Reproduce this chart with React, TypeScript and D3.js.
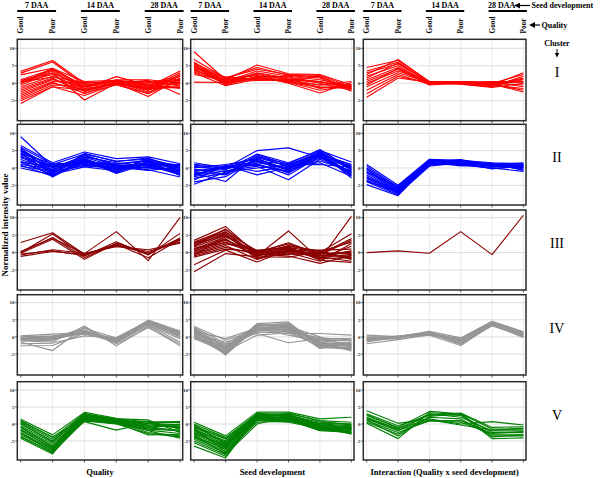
import React from "react";
import * as d3 from "d3";

// ---------- data ----------
const categories = ["G7", "P7", "G14", "P14", "G28", "P28"];
const qualityLabels = ["Good", "Poor", "Good", "Poor", "Good", "Poor"];
const stages = ["7 DAA", "14 DAA", "28 DAA"];
const yTicks = [10, 5, 0, -5];
const clusters = ["I", "II", "III", "IV", "V"];
const columnTitles = ["Quality", "Seed development", "Interaction (Quality x seed development)"];
const clusterColors = ["#ff0000", "#0000ff", "#8b0000", "#959595", "#008000"];

const qualityI = [
  [3.4, 6.5, 0, 0.5, -1, 3.5], [2.9, 6.1, -0.5, 0.3, -1.5, 3], [2.4, 4.3, -1, 0, -2, 2.5],
  [1, 4, -1.5, 1.9, -0.5, 1], [0.5, 3.8, -0.5, 0.5, 0, 2], [0, 3.5, -2, 0, -1, 0],
  [-0.5, 3, -4.8, 0, -3.8, 1.5], [0.8, 2.9, -1, 0.5, 0.5, -0.5], [0.2, 2.5, -2.4, 0.2, -2.5, 0.5],
  [-1, 2, -1.5, -0.3, -1.2, -1], [-1.5, 1.5, -3, 0.3, -2, 2], [-2, 1.2, -2.2, 0, 0.8, -3.2],
  [-2.5, 1, -1, 1, 1, 0], [-3, 0.5, 0, 0.5, -0.5, -1.5], [-3.5, 0.2, -2.8, -0.5, -3, 1],
  [-4, 0, -1.8, 0.2, -1.8, -0.5], [-4.5, -0.5, -0.8, 0.8, -0.8, 0.3], [-5, -1, -3.5, -0.2, -2.8, 2.5],
  [-5.8, -1, -2, 0, -1.5, -1.2], [0, 4.2, 0.5, 0.8, 0.2, 1.2], [0.3, 1.8, 0.2, 0.4, -0.3, 0.8],
];
const seedI = [
  [9, 1, 5.2, 2.7, 2.5, -0.5], [6.8, 1.5, 4, 2.5, 2.2, -1], [6, 0.5, 3.5, 2, 1, -0.8],
  [5.5, 0, 3, 1.5, 0.5, -1.5], [5.2, 1.2, 2.5, 1, -0.5, -0.5], [5, -0.5, 2, 1.8, 0, -2],
  [4.8, 0.8, 1.5, 0.5, -1, -1.2], [4.5, 0.2, 2.8, 1.2, -1.5, -0.3], [4.2, 1.8, 1, 0.8, 2, -1.8],
  [4, -0.2, 1.8, 0.3, -2, -0.6], [3.8, 0.6, 1.2, 2.2, 1.5, -2.3], [3.5, 1, 2.2, 0, -2.8, 0.2],
  [3.2, 0.3, 0.8, 1, 0.5, -1], [3, -0.7, 1.2, 0.6, -0.5, 0.5], [2.5, 0.9, 1.6, 0.2, -1.2, -1.4],
  [0.3, 0.2, 1.4, 1.1, 0.2, -0.8], [5.8, 1.5, 4.5, 2.3, 1.8, -1.6],
];
const interI = [
  [4.5, 6.5, 0.5, 0.3, -0.5, 3], [3.5, 6, 0, 0.5, 0, 2.5], [3, 5.5, 0.3, 0, -0.5, 1.5],
  [2, 5, -0.2, 0.2, 0.5, 0.5], [1.5, 5.8, 0.2, -0.2, -1, 2], [1, 4.5, 0, 0.3, 0.3, -1],
  [0.5, 4, -0.5, 0, -0.8, 1], [0, 3.5, 0.5, 0.5, 0, -0.5], [-0.5, 4.2, 0, -0.3, -1.2, 0],
  [-1, 3, 0.2, 0.1, -0.3, -2], [-2, 2.5, -0.3, 0.4, 0.2, 0.3], [-3, 2, 0, 0, -0.6, -1.5],
  [-4, 1.5, 0.3, 0.2, -0.2, -2.5], [2.5, 6.8, 0.4, 0.1, -0.4, 1.2],
];

const qualityII = [
  [9, 0.5, 2, 0.5, 1, -1], [6.5, 1.5, 4.6, 2.7, 3.2, 1.2], [6, 1, 4, 2, 2.5, 0.5],
  [5.5, 0, 3.5, 1, 2, -0.5], [5.2, -1, 3, 0.5, 1.5, 0], [5, 0.5, 2.5, 0, 1, 1],
  [4.8, -0.5, 3.2, 1.5, 0.5, -1.5], [4.5, -2, 2, -0.5, 1.8, 0.8], [4.2, 1.2, 1.5, 0.8, 0, -1],
  [4, -1.5, 2.8, -1, 2.8, -0.2], [3.8, 0.2, 1, 0.3, 0.8, -2], [3.5, -2.6, 2.2, -1.6, 1.2, 0.3],
  [3.2, -0.8, 3.8, 0.6, -0.5, -2.6], [3, 0.8, 1.8, 1.2, 2.2, -0.8], [2.5, -1.2, 0.8, -0.2, 0.3, 1],
  [2, -2.2, 2.5, -1.2, 1.5, -1.8], [1.7, 0.3, 1.2, 0.2, -0.7, 0.2], [1.5, -1.8, 0.3, -0.8, 2.5, -1.3],
  [1, -0.3, 1.6, 0.9, 0.6, 0.6], [0.8, -2.4, 2.6, -1.4, 1.9, -2.2], [0.5, -1, 0.6, 0, 0.1, -0.4],
  [0, -2, 1.4, -0.6, 1.1, -1.6], [5.8, -1.7, 4.2, 1.8, 2.9, -0.9],
];
const seedII = [
  [1.5, 0, 2, 1, 4, 1], [1, 0.5, 3, 0.5, 4.5, 0], [0.5, -0.5, 4, 1.5, 5, 1.7],
  [0, 1, 2.5, -0.5, 4.8, -0.5], [-0.5, -1, 1.5, 0, 3.5, 0.5], [-1, 0, 5, 5.8, 3, -1],
  [-1.5, -3.9, 3.5, 0.3, 4.2, -1.5], [-2, 0.3, 1, -1, 3.8, -2], [-2.5, -0.8, 0.5, -3.4, 2.5, -1.2],
  [-3, -1.5, 2.2, -1.5, 4.5, -2.9], [-4.7, -1.2, 0, 0.8, 1, 0.2], [-3.5, 0.8, -2, 0.2, 2, -0.8],
  [0.2, -0.3, 3.2, 1.2, 5.3, -0.3], [-0.8, 0.2, 1.8, -0.2, 4, 0.8], [-1.2, -2, 2.8, -0.8, 3.2, -1.8],
  [-1.8, 0.6, -1, 0.5, 1.5, -2.4], [0.8, -0.1, 0.8, -1.2, 2.8, 0.4], [-0.3, -1.8, 3.8, 0.9, 4.6, -0.6],
  [-2.2, 0.4, 1.2, -2, 3.4, -1.3], [-4, -2.5, 2.5, -0.4, 3.6, -2.2],
];
const interII = [
  [1, -5, 2.5, 2.2, 1.5, 1.2], [0.5, -5.5, 2.2, 2, 1.2, 0.8], [0, -5.8, 2, 1.8, 1, 1.5],
  [-0.5, -6, 1.8, 2.4, 0.8, 0.5], [-1, -6.2, 1.5, 1.5, 0.5, 0], [-1.5, -6.5, 1.2, 1.2, 1.3, -0.5],
  [-2, -6.8, 1, 1, 0.2, 1], [-2.5, -7, 2.3, 0.8, 0, -1], [-3, -7.2, 0.8, 2, 0.7, 0.3],
  [-3.5, -7.5, 0.5, 1.6, -0.3, 0.8], [-4, -7.8, 1.6, 0.6, 0.9, -0.3], [-4.8, -8, 1.4, 1.3, 0.4, 0.6],
  [-1.2, -5.2, 2.1, 1.7, 1.1, 1.1], [-2.8, -6.4, 1.7, 2.3, 0.6, 0.1], [-0.2, -7.4, 1.9, 1.4, 1.4, -0.7],
  [-3.8, -6.9, 0.9, 1.1, -0.1, 0.4],
];

const qualityIII = [
  [2.9, 5.7, -0.5, 2.2, -0.2, 4], [0, 5.3, -1, 3.1, -0.7, 5.5], [0.3, 4.1, -0.3, 6, -2.3, 10.1],
  [-0.2, 3.8, -1.9, 2.7, -0.2, 3.5], [-0.7, 0.8, -0.2, 1.7, 0.8, 2.7], [-1.1, 0.3, -0.6, 2, 0.3, 3],
  [0.1, 4.3, -1.4, 2.4, -1.5, 3.8], [-0.4, 0.5, -0.8, 2.5, -0.5, 4.2],
];
const seedIII = [
  [3.5, 7.5, -0.5, 1, -1, 0.5], [3, 6.5, 0, 2.8, -0.5, 4], [2.5, 6, -1, 6.2, -2, 10.4],
  [2.8, 5.8, 0.5, 1.5, 0, 5.4], [2, 5.5, -0.8, 0.5, -1.5, -0.5], [1.5, 5, -0.2, 2, 0.3, 3],
  [1, 4.5, 0.3, 1, -0.8, -1], [0.8, 4, -1.5, 0, -2.5, 2.6], [0.5, 3.5, 0, 1.8, 0.5, -1.8],
  [0, 3, -0.6, -0.5, -0.2, 0], [-0.3, 2.5, 0.7, 1.2, -1.2, -2.5], [-0.6, 2, -2, 0.5, 0.7, 1],
  [-1, 1.5, -0.4, -1, -3.1, -0.8], [-1.3, 1, 0.2, 2.5, -0.6, 3.5], [-3.5, 0.7, -2.7, 0.8, -1.8, -1.4],
  [-5.5, -0.3, -1.2, -1.3, 0.2, -2], [1.8, 6.8, -0.1, 0.6, -0.3, -0.3], [0.3, 3.8, -1.1, 1.4, -1.6, 1.8],
  [1.2, 2.8, 0.4, -0.2, -0.9, 0.3], [-0.8, 4.8, -0.7, 0.2, 0.1, -1.6], [2.2, 5.2, -1.8, 1.6, -2.2, -2.8],
];
const interIII = [[0, 0.5, -0.2, 6, -0.6, 10.7]];

const qualityIV = [
  [0.3, 0.8, 1.2, -0.5, 4.5, 1.5], [0, 0.3, 1.5, -1, 4.8, 1], [-0.3, 0, 2, -0.8, 4.2, 0.5],
  [-0.5, -0.5, 1, -1.2, 4, 0.8], [-0.8, -0.2, 2.5, -0.3, 3.8, 0], [-1, -1, 1.8, -1.5, 3.5, -0.5],
  [-1.2, -1.5, 3.2, -2.6, 3, -2.6], [-1.5, -4, 2.8, -2, 2.7, -2], [-0.2, 0.2, 0.8, -0.6, 4.9, 1.7],
  [-0.6, -0.3, 1.4, -0.9, 4.4, 1.2], [-2.6, -2.5, 1.1, -1.6, 3.3, -1.5], [-2, -1.8, 0.3, -0.2, 4.6, 0.2],
  [-0.9, -0.7, 1.7, -1.3, 3.9, 0.9],
];
const seedIV = [
  [3.1, -1, 2, 1.5, -2, -2], [2.8, -2, 3, 2.5, -1, -1], [2.5, -3, 3.5, 3, 0, -3],
  [2.2, -4, 2.5, 3.5, -2.5, -2.5], [2, -4.5, 3.9, 4.4, -3, -3.5], [1.8, -5.3, 2.8, 2, -1.5, -4.1],
  [1.5, -3.5, 1.5, 1, 1, 0.5], [1.2, -2.5, 2.2, 2.8, -3.4, -1.5], [1, -4.8, 3.2, 3.8, -2.2, -2.8],
  [0.8, -1.5, 1, -1.7, -0.5, -0.5], [0.5, -3.8, 2.4, 1.8, -2.8, -3.2], [0.2, -5, 3.6, 3.2, -1.8, -2.2],
  [0, -2.8, 1.8, 2.2, -0.8, -1.2], [-0.5, -4.2, 0.5, 1.2, -2.6, -3.8], [1.6, -0.5, 2.6, 0.5, -1.2, -1.8],
  [2.6, -3.2, 3.3, 4, -2, -2.6], [0.4, -4.5, 2.9, 2.6, -3.2, -3], [1.4, -2.2, 1.3, 1.6, -0.3, -0.9],
  [2.4, -4.8, 3.5, 3.4, -2.4, -3.4], [-0.2, -3.3, 2, 2.9, -1.6, -2.3],
];
const interIV = [
  [0, 0, 1, -0.5, 4.5, 1.5], [-0.5, -0.2, 1.2, -1, 4.2, 1], [-1, 0.3, 0.8, -1.5, 4, 0.5],
  [-0.8, -0.5, 1.5, -2, 3.8, 0.8], [-1.5, 0, 0.5, -2.5, 3.5, 0], [-0.3, 0.2, 1.3, -0.8, 4.3, 1.2],
  [-1.2, -0.3, 0.9, -1.8, 3.2, 0.3], [-2, -0.8, 0.6, -1.2, 3.6, -0.2], [0.5, 0.1, 1.6, -0.3, 4.6, 1.4],
  [-0.6, -0.1, 1.1, -2.2, 3.9, 0.6],
];

const qualityV = [
  [1.4, -3.2, 3.4, 1.7, 0.5, 0.5], [1, -4, 3, 1.2, 0, -0.5], [0.5, -4.5, 2.5, 1, -0.5, -1],
  [0, -5, 2, 0.8, 0.8, -1.5], [-0.5, -5.5, 1.5, 0.5, -1, 0], [-1, -6, 1, 0.2, -1.5, -2],
  [-1.5, -6.5, 2.8, 1.5, 1.2, -2.5], [-2, -7, 0.7, -1.8, 0.3, -1.2], [-2.5, -7.5, 1.8, 0.6, -2.5, -3.5],
  [-3, -8, 2.2, 1.1, -2, -4.2], [-3.5, -8.5, 1.2, 0.3, -3.2, -3], [-4.2, -8.8, 2.6, 1.3, -0.3, -0.8],
  [0.8, -3.8, 1.6, 0.9, 0.6, 0.7], [-0.8, -6.8, 2.4, 0.4, -1.2, -1.8], [-2.8, -7.8, 1.4, 0.7, -0.7, -2.2],
  [0.2, -5.2, 3.1, 1.4, 0.1, -0.2], [-1.8, -7.2, 2, 0.1, -1.8, -2.8], [-3.8, -8.3, 0.9, 0, -2.8, -3.8],
];
const seedV = [
  [0.5, -3.5, 3.5, 3.5, 1.5, 2], [0, -4, 3, 3, 1, 0.5], [-0.5, -4.5, 2.8, 2.5, 0.5, 0],
  [-1, -5, 2.5, 2.8, 0, -0.5], [-1.5, -5.5, 2.2, 2, -0.5, -1], [-2, -6, 2, 1.8, -1, -1.5],
  [-2.5, -6.5, 1.8, 1.5, -1.5, -2], [-3, -7, 1.5, 1.2, -2, -2.5], [-3.5, -7.5, 1.2, 1, -0.8, -3],
  [-4, -8, 1, 0.5, -1.2, -1.2], [-4.5, -8.5, 0.5, 0.8, -0.2, -0.8], [-5, -9, 0, 2.2, -1.8, -1.8],
  [-5.5, -9.5, 2.6, 2.6, -0.6, -2.2], [-6.5, -10, 2.4, 1.6, -1.4, -2.8], [-0.8, -4.2, 1.6, 3.2, 0.8, -0.3],
  [-1.8, -5.2, 2.9, 1.3, -0.3, -1.6], [-2.8, -6.2, 1.4, 2.4, -1.6, -0.6], [-3.8, -7.2, 2.1, 1.9, -0.9, -2.4],
  [-1.2, -8.2, 1.1, 1.1, -1.9, -1.4], [-2.2, -6.8, 3.2, 2.1, 0.2, -0.1], [-3.2, -8.8, 1.7, 0.9, -1.1, -2.6],
  [-0.2, -5.8, 2.3, 2.7, -0.4, -1.1],
];
const interV = [
  [3.9, 0.2, 1.5, 0, 0.7, -0.3], [3, -0.5, 2.5, 3.2, -1, -0.8], [2.5, -1, 3.7, 3, -1.5, -1.5],
  [2, -1.5, 3, 2, -2, -2], [1.5, -2, 2.8, 2.5, -2.5, -2.5], [1, -2.5, 1, 0.5, -3, -3],
  [0.5, -3, 2, 1.5, -3.5, -3.5], [0.2, -4.3, 3.3, 2.8, -4.3, -4.1], [2.8, -1.2, 1.2, -0.3, -1.8, -1.2],
  [1.8, -1.8, 0.9, 1, -2.8, -2.2], [1.2, -3.5, 2.2, 3.1, -3.8, -3.2],
];

const panelData = [
  [qualityI, seedI, interI],
  [qualityII, seedII, interII],
  [qualityIII, seedIII, interIII],
  [qualityIV, seedIV, interIV],
  [qualityV, seedV, interV],
];

// ---------- layout ----------
const W = 600;
const H = 478;
const colLeft = [17.3, 190.7, 363.3];
const colRight = [182.7, 354, 526];
const rowTop = [39.3, 124.3, 210, 294.7, 381.7];
const rowBottom = [120.7, 205, 290, 375, 460];
const rowY10 = [48.3, 133.3, 217.7, 302.7, 390];
const rowYm5 = [100.7, 185.3, 270, 354, 441];
const serif = "'Liberation Serif', 'DejaVu Serif', serif";

export default function App() {
  const xScales = colLeft.map((l, i) =>
    d3.scalePoint<string>().domain(categories).range([l + 3.4, colRight[i] - 2.6])
  );
  const yScales = rowTop.map((_, r) =>
    d3.scaleLinear().domain([-5, 10]).range([rowYm5[r], rowY10[r]])
  );

  return (
    <svg
      width={W}
      height={H}
      style={{ position: "absolute", left: 0, top: 0, background: "#fff" }}
      fontFamily={serif}
    >
      <defs>
        <marker id="ah" viewBox="0 0 10 10" refX="1" refY="5" markerWidth="5" markerHeight="5" orient="auto-start-reverse">
          <path d="M0,0 L10,5 L0,10 z" fill="#000" />
        </marker>
      </defs>
      <rect x={0} y={0} width={W} height={H} fill="#fff" />

      {/* headers */}
      {xScales.map((xs, c) => (
        <g key={"h" + c}>
          {stages.map((s, k) => {
            const x1 = xs(categories[2 * k])!;
            const x2 = xs(categories[2 * k + 1])!;
            const shift = c === 2 && k === 2 ? -6 : 0;
            return (
              <g key={s}>
                <text x={(x1 + x2) / 2 + shift} y={7.5} fontSize={8} fontWeight="bold" textAnchor="middle">
                  {s}
                </text>
                <line x1={x1 - 3.5} x2={x2 + 3.5} y1={11} y2={11} stroke="#000" strokeWidth={2} />
              </g>
            );
          })}
          {categories.map((cat, i) => (
            <text
              key={cat}
              transform={`translate(${xs(cat)! + 2.6},33.5) rotate(-90)`}
              fontSize={7.3}
              fontWeight="bold"
            >
              {qualityLabels[i]}
            </text>
          ))}
        </g>
      ))}

      {/* right annotations */}
      <line x1={530} x2={519.5} y1={5.5} y2={5.5} stroke="#000" strokeWidth={1.2} markerEnd="url(#ah)" />
      <text x={531.5} y={8} fontSize={8} fontWeight="bold">Seed development</text>
      <line x1={540} x2={534.5} y1={25} y2={25} stroke="#000" strokeWidth={1.2} markerEnd="url(#ah)" />
      <text x={541.5} y={27.5} fontSize={8} fontWeight="bold">Quality</text>
      <text x={557} y={46} fontSize={8} fontWeight="bold" textAnchor="middle">Cluster</text>
      <line x1={557} x2={557} y1={49} y2={53} stroke="#000" strokeWidth={1} markerEnd="url(#ah)" />
      {clusters.map((cl, r) => (
        <text key={cl} x={557} y={rowTop[r] + 38} fontSize={14} textAnchor="middle">
          {cl}
        </text>
      ))}

      {/* y-axis title */}
      <text transform="translate(7.5,225) rotate(-90)" fontSize={9} fontWeight="bold" textAnchor="middle">
        Normalized intensity value
      </text>

      {/* bottom titles */}
      {columnTitles.map((t, c) => (
        <text key={t} x={(colLeft[c] + colRight[c]) / 2} y={474.5} fontSize={8.5} fontWeight="bold" textAnchor="middle">
          {t}
        </text>
      ))}

      {/* panels */}
      {panelData.map((row, r) =>
        row.map((series, c) => {
          const xs = xScales[c];
          const ys = yScales[r];
          const line = d3
            .line<number>()
            .x((_, i) => xs(categories[i])!)
            .y((v) => ys(v));
          const l = colLeft[c];
          const rt = colRight[c];
          const t = rowTop[r];
          const b = rowBottom[r];
          return (
            <g key={`p${r}-${c}`}>
              <rect x={l} y={t} width={rt - l} height={b - t} fill="#fff" />
              {yTicks.map((v) => (
                <line key={"gy" + v} x1={l} x2={rt} y1={ys(v)} y2={ys(v)} stroke="#dcdcdc" strokeWidth={1} />
              ))}
              {categories.map((cat) => (
                <line key={"gx" + cat} x1={xs(cat)} x2={xs(cat)} y1={t} y2={b} stroke="#e4e4e4" strokeWidth={0.8} />
              ))}
              {series.map((s, k) => (
                <path
                  key={k}
                  d={line(s) || ""}
                  fill="none"
                  stroke={clusterColors[r]}
                  strokeWidth={1.15}
                  strokeLinejoin="round"
                />
              ))}
              <rect x={l} y={t} width={rt - l} height={b - t} fill="none" stroke="#2a2a2a" strokeWidth={1.5} />
              {yTicks.map((v) => (
                <g key={"yt" + v}>
                  <line x1={l - 2.2} x2={l} y1={ys(v)} y2={ys(v)} stroke="#333" strokeWidth={0.8} />
                  <text x={l - 2.8} y={ys(v) + 1.7} fontSize={5} fontWeight="bold" textAnchor="end" fill="#222">
                    {v}
                  </text>
                </g>
              ))}
              {categories.map((cat) => (
                <line key={"xt" + cat} x1={xs(cat)} x2={xs(cat)} y1={b} y2={b + 2.5} stroke="#333" strokeWidth={0.8} />
              ))}
            </g>
          );
        })
      )}
    </svg>
  );
}
